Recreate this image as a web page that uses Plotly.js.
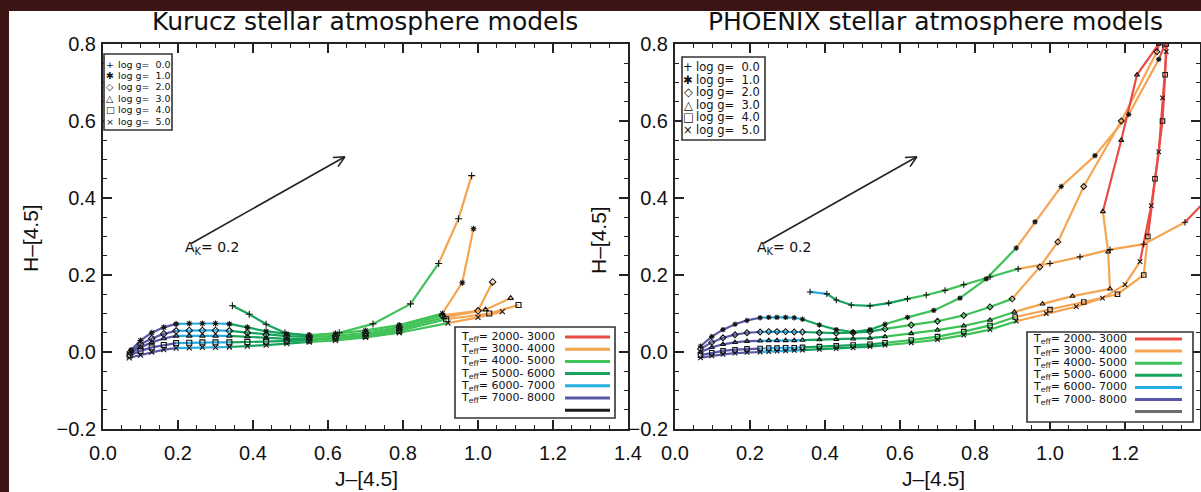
<!DOCTYPE html>
<html><head><meta charset="utf-8">
<script src="https://cdn.plot.ly/plotly-3.0.1.min.js"></script>
<style>html,body{margin:0;padding:0;background:#fff;}#chart{width:1201px;height:492px;}</style>
</head><body><div id="chart"></div>
<script>
// ---------------- Kurucz models (Teff grid, 250 K) ----------------
const kuruczTeff = [8000,7750,7500,7250,7000,6750,6500,6250,6000,5750,5500,5250,5000,4750,4500,4250,4000,3750,3500];
const kuruczG0X = [null,null,null,null,null,null,null,null,0.345,0.39,0.435,0.485,0.55,0.63,0.72,0.82,0.895,0.948,0.983];
const kuruczG0Y = [null,null,null,null,null,null,null,null,0.12,0.098,0.072,0.05,0.042,0.05,0.073,0.125,0.23,0.346,0.458];
const kuruczG1X = [0.075,0.10,0.13,0.162,0.195,0.23,0.265,0.30,0.337,0.385,0.435,0.49,0.55,0.62,0.70,0.79,0.905,0.958,0.988];
const kuruczG1Y = [0.005,0.03,0.05,0.064,0.073,0.074,0.074,0.074,0.073,0.064,0.054,0.047,0.044,0.048,0.056,0.07,0.10,0.18,0.32];
const kuruczG2X = [0.073,0.10,0.13,0.162,0.195,0.23,0.265,0.30,0.337,0.385,0.435,0.49,0.55,0.62,0.70,0.79,0.905,1.0,1.039];
const kuruczG2Y = [0.0,0.02,0.035,0.047,0.055,0.056,0.056,0.056,0.055,0.05,0.045,0.041,0.039,0.042,0.05,0.065,0.095,0.107,0.182];
const kuruczG3X = [0.072,0.10,0.13,0.162,0.195,0.23,0.265,0.30,0.337,0.385,0.435,0.49,0.55,0.62,0.70,0.79,0.91,1.02,1.087];
const kuruczG3Y = [-0.004,0.012,0.025,0.035,0.042,0.042,0.042,0.042,0.042,0.04,0.036,0.034,0.034,0.037,0.045,0.06,0.09,0.11,0.14];
const kuruczG4X = [0.071,0.10,0.13,0.162,0.195,0.23,0.265,0.30,0.337,0.385,0.435,0.49,0.55,0.62,0.70,0.79,0.915,1.03,1.108];
const kuruczG4Y = [-0.009,0.003,0.012,0.018,0.023,0.024,0.025,0.025,0.025,0.026,0.027,0.028,0.03,0.035,0.042,0.055,0.085,0.10,0.122];
const kuruczG5X = [0.07,0.10,0.13,0.162,0.195,0.23,0.265,0.30,0.337,0.385,0.435,0.49,0.55,0.62,0.70,0.79,0.92,1.0,1.065];
const kuruczG5Y = [-0.015,-0.008,0.0,0.006,0.01,0.011,0.012,0.012,0.013,0.015,0.018,0.022,0.026,0.03,0.038,0.05,0.075,0.09,0.105];

// ---------------- PHOENIX models (Teff grid, 200 K) ----------------
const phoenixTeff = [8000,7800,7600,7400,7200,7000,6800,6600,6400,6200,6000,5800,5600,5400,5200,5000,4800,4600,4400,4200,4000,3800,3600,3400,3200,3000,2800,2600,2400,2200,2000];
const phoenixG0X = [null,null,null,null,null,null,null,null,null,0.36,0.405,0.43,0.47,0.52,0.57,0.62,0.67,0.72,0.77,0.84,0.915,1.0,1.08,1.16,1.25,1.36,1.42,1.48,1.54,1.6,1.66];
const phoenixG0Y = [null,null,null,null,null,null,null,null,null,0.156,0.151,0.135,0.122,0.12,0.127,0.138,0.148,0.16,0.175,0.195,0.216,0.23,0.247,0.266,0.28,0.337,0.40,0.46,0.52,0.58,0.64];
const phoenixG1X = [0.068,0.098,0.128,0.16,0.192,0.227,0.25,0.272,0.295,0.318,0.34,0.385,0.43,0.475,0.52,0.56,0.62,0.69,0.76,0.83,0.91,0.96,1.03,1.12,1.21,1.29,1.32,1.34,1.36,1.37,1.38];
const phoenixG1Y = [0.015,0.04,0.058,0.072,0.082,0.089,0.09,0.09,0.09,0.089,0.085,0.07,0.058,0.052,0.058,0.072,0.09,0.108,0.14,0.19,0.27,0.338,0.43,0.51,0.617,0.76,0.83,0.9,0.97,1.04,1.1];
const phoenixG2X = [0.068,0.098,0.128,0.16,0.192,0.227,0.25,0.272,0.295,0.318,0.34,0.385,0.43,0.475,0.52,0.56,0.63,0.70,0.77,0.84,0.899,0.973,1.021,1.09,1.19,1.285,1.31,1.33,1.35,1.36,1.37];
const phoenixG2Y = [0.008,0.025,0.037,0.045,0.05,0.052,0.053,0.053,0.053,0.052,0.052,0.05,0.049,0.05,0.053,0.06,0.07,0.08,0.095,0.117,0.138,0.221,0.286,0.43,0.60,0.78,0.86,0.93,1.0,1.06,1.12];
const phoenixG3X = [0.068,0.098,0.128,0.16,0.192,0.227,0.25,0.272,0.295,0.318,0.34,0.385,0.43,0.475,0.52,0.56,0.63,0.70,0.77,0.84,0.905,0.98,1.06,1.16,1.155,1.141,1.19,1.232,1.29,1.32,1.34];
const phoenixG3Y = [0.0,0.012,0.02,0.025,0.028,0.029,0.03,0.03,0.03,0.03,0.031,0.032,0.033,0.034,0.036,0.04,0.048,0.057,0.068,0.083,0.104,0.125,0.145,0.164,0.26,0.365,0.55,0.72,0.8,0.86,0.92];
const phoenixG4X = [0.068,0.098,0.128,0.16,0.192,0.227,0.25,0.272,0.295,0.318,0.34,0.385,0.43,0.475,0.52,0.56,0.63,0.70,0.77,0.84,0.907,1.0,1.09,1.18,1.25,1.261,1.28,1.30,1.307,1.31,1.32];
const phoenixG4Y = [-0.008,-0.002,0.003,0.006,0.008,0.009,0.01,0.01,0.011,0.011,0.012,0.014,0.016,0.018,0.02,0.024,0.031,0.04,0.053,0.069,0.091,0.11,0.13,0.15,0.2,0.30,0.45,0.6,0.72,0.8,0.88];
const phoenixG5X = [0.068,0.098,0.128,0.16,0.192,0.227,0.25,0.272,0.295,0.318,0.34,0.385,0.43,0.475,0.52,0.56,0.63,0.70,0.77,0.84,0.91,0.99,1.07,1.14,1.2,1.24,1.27,1.29,1.30,1.31,1.32];
const phoenixG5Y = [-0.015,-0.01,-0.006,-0.003,-0.001,0.0,0.001,0.002,0.003,0.004,0.005,0.007,0.009,0.011,0.014,0.018,0.024,0.032,0.044,0.058,0.08,0.1,0.118,0.14,0.175,0.235,0.38,0.52,0.66,0.78,0.9];

// ---------------- legend / labels ----------------
const teffBands = [[2000,3000],[3000,4000],[4000,5000],[5000,6000],[6000,7000],[7000,8000]];
const teffBandLabels = ['2000- 3000','3000- 4000','4000- 5000','5000- 6000','6000- 7000','7000- 8000'];
const teffBandColors = ['#ea4a44','#f5a552','#3fc257','#16a35c','#25aee2','#5858a6'];
const loggValues = ['0.0','1.0','2.0','3.0','4.0','5.0'];
const loggSymbols = ['cross-thin-open','asterisk-open','diamond-open','triangle-up-open','square-open','x-thin-open'];
const loggGlyphs = ['+','✱','◇','△','□','×'];
const extinctionTail = [0.235, 0.282];
const extinctionHead = [0.645, 0.507];
const panelTitles = ['Kurucz stellar atmosphere models','PHOENIX stellar atmosphere models'];

// ---------------- build ----------------
const W = 1201, H = 492;
const px = v => v / W, py = v => 1 - v / H;

function lineTraces(teff, xs, ys, xa, ya) {
  const out = [];
  teffBands.forEach((b, bi) => {
    const sx = [], sy = [];
    for (let i = 0; i < teff.length; i++) {
      if (xs[i] == null) continue;
      if (teff[i] >= b[0] && teff[i] <= b[1]) { sx.push(xs[i]); sy.push(ys[i]); }
    }
    if (sx.length >= 2) out.push({type:'scatter', mode:'lines', x:sx, y:sy, xaxis:xa, yaxis:ya,
      line:{color:teffBandColors[bi], width:2.2}, hoverinfo:'skip', showlegend:false, cliponaxis:true});
  });
  return out;
}
function markerTrace(xs, ys, sym, xa, ya, size) {
  return {type:'scatter', mode:'markers', x:xs, y:ys, xaxis:xa, yaxis:ya, showlegend:false, hoverinfo:'skip',
    marker:{symbol:sym, size:size, color:'#151515', line:{color:'#151515', width:1.1}}};
}

const kuruczCurves = [[kuruczG0X,kuruczG0Y],[kuruczG1X,kuruczG1Y],[kuruczG2X,kuruczG2Y],[kuruczG3X,kuruczG3Y],[kuruczG4X,kuruczG4Y],[kuruczG5X,kuruczG5Y]];
const phoenixCurves = [[phoenixG0X,phoenixG0Y],[phoenixG1X,phoenixG1Y],[phoenixG2X,phoenixG2Y],[phoenixG3X,phoenixG3Y],[phoenixG4X,phoenixG4Y],[phoenixG5X,phoenixG5Y]];

let traces = [];
kuruczCurves.forEach(c => traces = traces.concat(lineTraces(kuruczTeff, c[0], c[1], 'x', 'y')));
phoenixCurves.forEach(c => traces = traces.concat(lineTraces(phoenixTeff, c[0], c[1], 'x2', 'y2')));
kuruczCurves.forEach((c, i) => traces.push(markerTrace(c[0], c[1], loggSymbols[i], 'x', 'y', 5)));
phoenixCurves.forEach((c, i) => traces.push(markerTrace(c[0], c[1], loggSymbols[i], 'x2', 'y2', 4.5)));

const tickFont = {family:'Liberation Sans, Arial, sans-serif', size:20, color:'#111'};
function xAxis(domain, anchor) {
  return {domain:domain, anchor:anchor, range:[0,1.4], tick0:0, dtick:0.2, tickformat:'.1f',
    ticks:'inside', ticklen:9, tickwidth:1.4, tickcolor:'#222', mirror:'ticks', showline:true,
    linecolor:'#222', linewidth:2, showgrid:false, zeroline:false, tickfont:tickFont, ticklabelstandoff:5,
    minor:{dtick:0.05, ticks:'inside', ticklen:4, tickwidth:1, tickcolor:'#222', showgrid:false}};
}
function yAxis(domain, anchor) {
  return {domain:domain, anchor:anchor, range:[-0.2,0.8], tick0:0, dtick:0.2, tickformat:'.1f',
    ticks:'inside', ticklen:9, tickwidth:1.4, tickcolor:'#222', mirror:'ticks', showline:true,
    linecolor:'#222', linewidth:2, showgrid:false, zeroline:false, tickfont:tickFont, ticklabelstandoff:1,
    minor:{dtick:0.05, ticks:'inside', ticklen:4, tickwidth:1, tickcolor:'#222', showgrid:false}};
}
const yDom = [1 - 429/H, 1 - 44/H];

const shapes = [], annotations = [];
// dark frame strips
shapes.push({type:'rect', xref:'paper', yref:'paper', x0:0, x1:1, y0:py(11), y1:1, fillcolor:'#3b1513', line:{width:0}, layer:'above'});
shapes.push({type:'rect', xref:'paper', yref:'paper', x0:0, x1:px(9), y0:0, y1:1, fillcolor:'#3b1513', line:{width:0}, layer:'above'});

// extinction arrows (drawn in data space; head computed in pixel space)
function arrow(xr, yr, xPxPerUnit, yPxPerUnit) {
  const [x0, y0] = extinctionTail, [x1, y1] = extinctionHead;
  shapes.push({type:'line', xref:xr, yref:yr, x0:x0, y0:y0, x1:x1, y1:y1, line:{color:'#222', width:1.6}});
  const ang = Math.atan2((y1-y0)*yPxPerUnit, (x1-x0)*xPxPerUnit);
  [0.45, -0.45].forEach(d => {
    const a = ang + Math.PI + d, L = 12;
    shapes.push({type:'line', xref:xr, yref:yr, x0:x1, y0:y1,
      x1:x1 + L*Math.cos(a)/xPxPerUnit, y1:y1 + L*Math.sin(a)/yPxPerUnit, line:{color:'#222', width:1.6}});
  });
  annotations.push({xref:xr, yref:yr, x:x0 - 0.022, y:y0 - 0.012, xanchor:'left', yanchor:'middle', showarrow:false,
    text:'A<sub>K</sub>= 0.2', font:{family:'DejaVu Sans', size:14, color:'#111'}});
}
arrow('x', 'y', 525/1.4, 385);
arrow('x2', 'y2', 525/1.4, 385);

// Teff legend boxes
function teffLegend(box, textX, rowY, dy, lineX0, lineX1, lastColor) {
  shapes.push({type:'rect', xref:'paper', yref:'paper', x0:px(box[0]), x1:px(box[2]), y0:py(box[3]), y1:py(box[1]),
    fillcolor:'#fff', line:{color:'#333', width:1.6}, layer:'above'});
  teffBandLabels.forEach((lab, i) => {
    const y = rowY + dy*i;
    annotations.push({xref:'paper', yref:'paper', x:px(textX), y:py(y), xanchor:'left', yanchor:'middle', showarrow:false,
      text:'T<sub>eff</sub>= ' + lab, font:{family:'DejaVu Sans', size:11, color:'#111'}});
    shapes.push({type:'line', xref:'paper', yref:'paper', x0:px(lineX0), x1:px(lineX1), y0:py(y), y1:py(y),
      line:{color:teffBandColors[i], width:3}, layer:'above'});
  });
  const y = rowY + dy*6;
  shapes.push({type:'line', xref:'paper', yref:'paper', x0:px(lineX0), x1:px(lineX1), y0:py(y), y1:py(y),
    line:{color:lastColor, width:3}, layer:'above'});
}
teffLegend([455,327,615,418], 459, 337, 12.2, 565, 610, '#1a1a1a');
teffLegend([1027,332,1193,422], 1031, 339, 12.1, 1135, 1182, '#6e6e6e');

// log g legend boxes
function loggLegend(box, symX, textX, rowY, dy, fs) {
  shapes.push({type:'rect', xref:'paper', yref:'paper', x0:px(box[0]), x1:px(box[2]), y0:py(box[3]), y1:py(box[1]),
    fillcolor:'#fff', line:{color:'#333', width:1.6}, layer:'above'});
  loggValues.forEach((v, i) => {
    const y = rowY + dy*i;
    annotations.push({xref:'paper', yref:'paper', x:px(symX), y:py(y), xanchor:'center', yanchor:'middle', showarrow:false,
      text:loggGlyphs[i], font:{family:'DejaVu Sans', size:fs, color:'#111'}});
    annotations.push({xref:'paper', yref:'paper', x:px(textX), y:py(y), xanchor:'left', yanchor:'middle', showarrow:false,
      text:'log g=  ' + v, font:{family:'DejaVu Sans', size:fs, color:'#111'}});
  });
}
loggLegend([104,54,172,130], 110, 116, 64, 11.4, 9.5);
loggLegend([682,57,765,140], 688, 694, 67, 12.5, 11.5);

// titles and axis titles
const titleFont = {family:'DejaVu Sans', size:25, color:'#111'};
annotations.push({xref:'paper', yref:'paper', x:px(365), y:py(22), xanchor:'center', yanchor:'middle', showarrow:false, text:panelTitles[0], font:titleFont});
annotations.push({xref:'paper', yref:'paper', x:px(935), y:py(22), xanchor:'center', yanchor:'middle', showarrow:false, text:panelTitles[1], font:titleFont});
const axFont = {family:'Liberation Sans, Arial, sans-serif', size:21, color:'#111'};
annotations.push({xref:'paper', yref:'paper', x:px(366), y:py(478), xanchor:'center', yanchor:'middle', showarrow:false, text:'J–[4.5]', font:axFont});
annotations.push({xref:'paper', yref:'paper', x:px(934), y:py(478), xanchor:'center', yanchor:'middle', showarrow:false, text:'J–[4.5]', font:axFont});
annotations.push({xref:'paper', yref:'paper', x:px(30), y:py(238), xanchor:'center', yanchor:'middle', showarrow:false, textangle:-90, text:'H–[4.5]', font:axFont});
annotations.push({xref:'paper', yref:'paper', x:px(598), y:py(240), xanchor:'center', yanchor:'middle', showarrow:false, textangle:-90, text:'H–[4.5]', font:axFont});

const layout = {
  width:W, height:H, margin:{l:0, r:0, t:0, b:0}, paper_bgcolor:'#fff', plot_bgcolor:'#fff', showlegend:false,
  xaxis:xAxis([103/W, 628/W], 'y'), yaxis:yAxis(yDom, 'x'),
  xaxis2:xAxis([675/W, 1200/W], 'y2'), yaxis2:yAxis(yDom, 'x2'),
  shapes:shapes, annotations:annotations
};
Plotly.newPlot('chart', traces, layout, {displayModeBar:false, staticPlot:true});
</script></body></html>
